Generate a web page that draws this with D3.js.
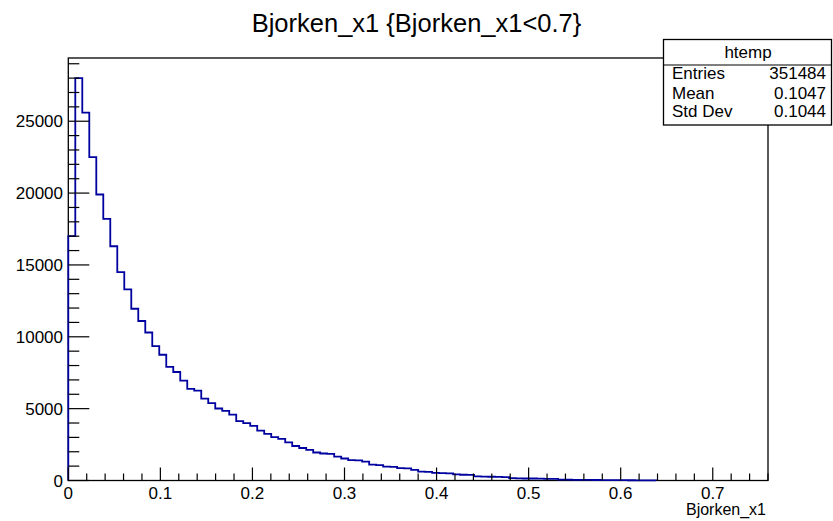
<!DOCTYPE html>
<html>
<head>
<meta charset="utf-8">
<script src="https://cdn.jsdelivr.net/npm/d3@7"></script>
<style>
  body { margin: 0; background: #fff; }
  text { font-family: "Liberation Sans", Arial, Helvetica, sans-serif; fill: #000; }
</style>
</head>
<body>
<div id="chart-area"></div>
<script>

// SVG Size
var width = 833,
    height = 521;

// histogram: 100 bins of 0.0076 from 0, only filled bins listed
var binWidth = 0.0076;
var xMin = 0, xMax = 0.76;
var counts = [17000, 28000, 25600, 22500, 19900, 18200, 16300, 14500, 13300, 11950,
    11100, 10300, 9350, 8750, 7900, 7550, 6950, 6380, 6260, 5700,
    5380, 5010, 4850, 4590, 4130, 3990, 3800, 3470, 3240, 3020,
    2890, 2650, 2400, 2260, 2130, 1950, 1880, 1850, 1660, 1530,
    1420, 1400, 1310, 1100, 1070, 970, 950, 860, 840, 740,
    620, 600, 530, 510, 490, 420, 400, 390, 290, 270,
    260, 250, 240, 160, 150, 140, 140, 130, 120, 110,
    60, 55, 50, 45, 40, 35, 30, 28, 25, 20,
    18, 15, 12, 10];

var xTickValues = [0, 0.1, 0.2, 0.3, 0.4, 0.5, 0.6, 0.7];
var yTickValues = [0, 5000, 10000, 15000, 20000, 25000];

var statNames = ["Entries", "Mean", "Std Dev"];
var statValues = ["351484", "0.1047", "0.1044"];

var frame = {left: 68.3, right: 768, top: 58, bottom: 480.5};

var svg = d3.select('#chart-area')
    .append('svg')
    .attr('width', width)
    .attr('height', height);

var xScale = d3.scaleLinear()
    .domain([xMin, xMax])
    .range([frame.left, frame.right]);

var yScale = d3.scaleLinear()
    .domain([0, d3.max(counts) * 1.05])
    .range([frame.bottom, frame.top]);

// frame
svg.append('rect')
    .attr('x', frame.left)
    .attr('y', frame.top)
    .attr('width', frame.right - frame.left)
    .attr('height', frame.bottom - frame.top)
    .attr('fill', 'none')
    .attr('stroke', '#000')
    .attr('stroke-width', 1.3);

// step line of the histogram
var pts = [[xScale(0), yScale(0)]];
counts.forEach(function (c, i) {
    pts.push([xScale(i * binWidth), yScale(c)]);
    pts.push([xScale((i + 1) * binWidth), yScale(c)]);
});
pts.push([xScale(counts.length * binWidth), yScale(0)]);

svg.append('path')
    .attr('d', d3.line()(pts))
    .attr('fill', 'none')
    .attr('stroke', '#0000a0')
    .attr('stroke-width', 1.8);

// x axis ticks (major 0.1, minor 0.02), drawn upward inside the frame
var xMinor = d3.range(0, 39).map(function (k) { return k * 0.02; });
svg.append('g')
    .selectAll('line')
    .data(xMinor)
    .enter()
    .append('line')
    .attr('x1', function (d) { return xScale(d); })
    .attr('x2', function (d) { return xScale(d); })
    .attr('y1', frame.bottom)
    .attr('y2', function (d, i) { return frame.bottom - (i % 5 === 0 ? 13 : 7); })
    .attr('stroke', '#000')
    .attr('stroke-width', 1.2);

svg.append('g')
    .selectAll('text')
    .data(xTickValues)
    .enter()
    .append('text')
    .attr('x', function (d) { return xScale(d); })
    .attr('y', 499)
    .attr('text-anchor', 'middle')
    .style('font-size', '17px')
    .text(function (d) { return d3.format('')(d); });

// y axis ticks (major 5000, minor 1000)
var yMinor = d3.range(0, 30).map(function (k) { return k * 1000; });
svg.append('g')
    .selectAll('line')
    .data(yMinor)
    .enter()
    .append('line')
    .attr('x1', frame.left)
    .attr('x2', function (d, i) { return frame.left + (i % 5 === 0 ? 21 : 11); })
    .attr('y1', function (d) { return yScale(d); })
    .attr('y2', function (d) { return yScale(d); })
    .attr('stroke', '#000')
    .attr('stroke-width', 1.2);

svg.append('g')
    .selectAll('text')
    .data(yTickValues)
    .enter()
    .append('text')
    .attr('x', 63)
    .attr('y', function (d) { return yScale(d); })
    .attr('dy', '0.36em')
    .attr('text-anchor', 'end')
    .style('font-size', '17px')
    .text(function (d) { return d; });

// titles
svg.append('text')
    .attr('x', 416.5)
    .attr('y', 32)
    .attr('text-anchor', 'middle')
    .style('font-size', '25.5px')
    .text('Bjorken_x1 {Bjorken_x1<0.7}');

svg.append('text')
    .attr('x', 766)
    .attr('y', 515)
    .attr('text-anchor', 'end')
    .style('font-size', '16px')
    .text('Bjorken_x1');

// stats box
var box = {x: 663.5, y: 39.5, w: 168, h: 85.5};
svg.append('rect')
    .attr('x', box.x)
    .attr('y', box.y)
    .attr('width', box.w)
    .attr('height', box.h)
    .attr('fill', '#fff')
    .attr('stroke', '#000')
    .attr('stroke-width', 1.3);

svg.append('line')
    .attr('x1', box.x)
    .attr('x2', box.x + box.w)
    .attr('y1', 65)
    .attr('y2', 65)
    .attr('stroke', '#000')
    .attr('stroke-width', 1.2);

svg.append('text')
    .attr('x', 748)
    .attr('y', 52)
    .attr('dy', '0.36em')
    .attr('text-anchor', 'middle')
    .style('font-size', '17px')
    .text('htemp');

var rowY = [73, 92.5, 111];
statNames.forEach(function (name, i) {
    svg.append('text')
        .attr('x', 672)
        .attr('y', rowY[i])
        .attr('dy', '0.36em')
        .style('font-size', '17px')
        .text(name);
    svg.append('text')
        .attr('x', 826)
        .attr('y', rowY[i])
        .attr('dy', '0.36em')
        .attr('text-anchor', 'end')
        .style('font-size', '17px')
        .text(statValues[i]);
});

</script>
</body>
</html>
